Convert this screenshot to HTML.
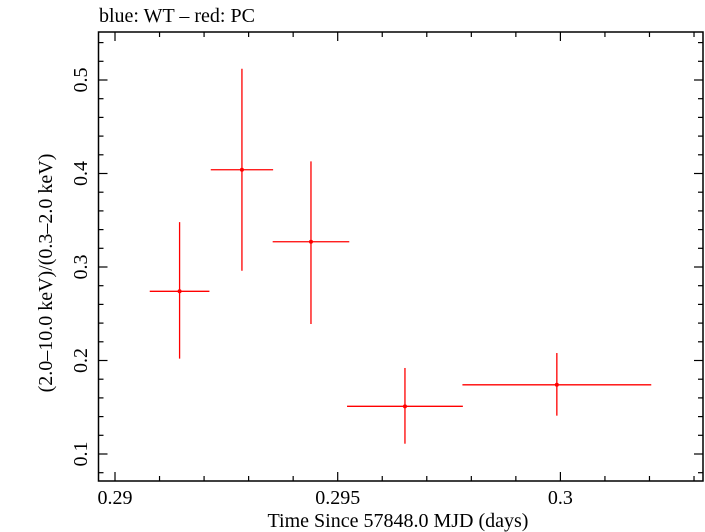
<!DOCTYPE html>
<html><head><meta charset="utf-8"><style>
body{margin:0;background:#fff}
svg{display:block;font-family:"Liberation Serif",serif}
</style></head><body>
<svg id="chart" width="705" height="532" xmlns="http://www.w3.org/2000/svg">
<text x="99" y="22" font-size="20">blue: WT – red: PC</text>
<rect x="98.5" y="32" width="604.5" height="449" fill="none" stroke="#000" stroke-width="1.5"/>
<text x="398" y="527" font-size="20" text-anchor="middle">Time Since 57848.0 MJD (days)</text>
<text transform="translate(52,273) rotate(-90)" font-size="20" text-anchor="middle">(2.0–10.0 keV)/(0.3–2.0 keV)</text>
<g id="ticks"></g><g id="marks"></g>
</svg>
<script>
const xTickLabels=["0.29","0.295","0.3"];
const yTickLabels=["0.1","0.2","0.3","0.4","0.5"];
const times=[0.29145,0.29285,0.2944,0.29651,0.29992];
const timeErr=[0.00067,0.0007,0.00086,0.0013,0.00212];
const ratios=[0.274,0.404,0.327,0.151,0.174];
const ratioLo=[0.202,0.296,0.239,0.111,0.141];
const ratioHi=[0.348,0.512,0.413,0.192,0.208];
const NS="http://www.w3.org/2000/svg";
const X=v=>115+(v-0.29)/0.005*222.7;
const Y=v=>454-(v-0.1)*935;
const L=98.5,R=703,T=32,B=481;
const tg=document.getElementById('ticks'),mg=document.getElementById('marks');
function ln(g,x1,y1,x2,y2,c,w,name){const e=document.createElementNS(NS,'line');
e.setAttribute('x1',x1);e.setAttribute('y1',y1);e.setAttribute('x2',x2);e.setAttribute('y2',y2);
e.setAttribute('stroke',c);e.setAttribute('stroke-width',w);


g.appendChild(e);}
function tx(s,x,y,anchor,rot,name){const e=document.createElementNS(NS,'text');
e.setAttribute('x',x);e.setAttribute('y',y);e.setAttribute('font-size','20');e.setAttribute('text-anchor',anchor);
if(rot)e.setAttribute('transform',`rotate(-90 ${x} ${y})`);e.textContent=s;


tg.appendChild(e);}
for(let i=0;i<=13;i++){const v=0.29+i*0.001;const x=X(v);if(x>R)break;const maj=i%5===0;const len=maj?9:5;
ln(tg,x,B,x,B-len,'#000',1.2,'x-tick');ln(tg,x,T,x,T+len,'#000',1.2,'x-tick');}
xTickLabels.forEach(s=>tx(s,X(+s),504,'middle',false,'x-tick-label'));
for(let i=0;i<=24;i++){const v=0.08+i*0.02;const y=Y(v);if(y<T||y>B)continue;const maj=Math.abs((v*10)-Math.round(v*10))<1e-6;const len=maj?9:5;
ln(tg,L,y,L+len,y,'#000',1.2,'y-tick');ln(tg,R,y,R-len,y,'#000',1.2,'y-tick');}
yTickLabels.forEach(s=>tx(s,87,Y(+s),'middle',true,'y-tick-label'));
times.forEach((t,i)=>{
ln(mg,X(t-timeErr[i]),Y(ratios[i]),X(t+timeErr[i]),Y(ratios[i]),'#f00',1.3,'x-error-bar');
ln(mg,X(t),Y(ratioHi[i]),X(t),Y(ratioLo[i]),'#f00',1.3,'y-error-bar');
const c=document.createElementNS(NS,'circle');c.setAttribute('cx',X(t));c.setAttribute('cy',Y(ratios[i]));c.setAttribute('r',2);c.setAttribute('fill','#f00');


mg.appendChild(c);});
</script>
</body></html>
